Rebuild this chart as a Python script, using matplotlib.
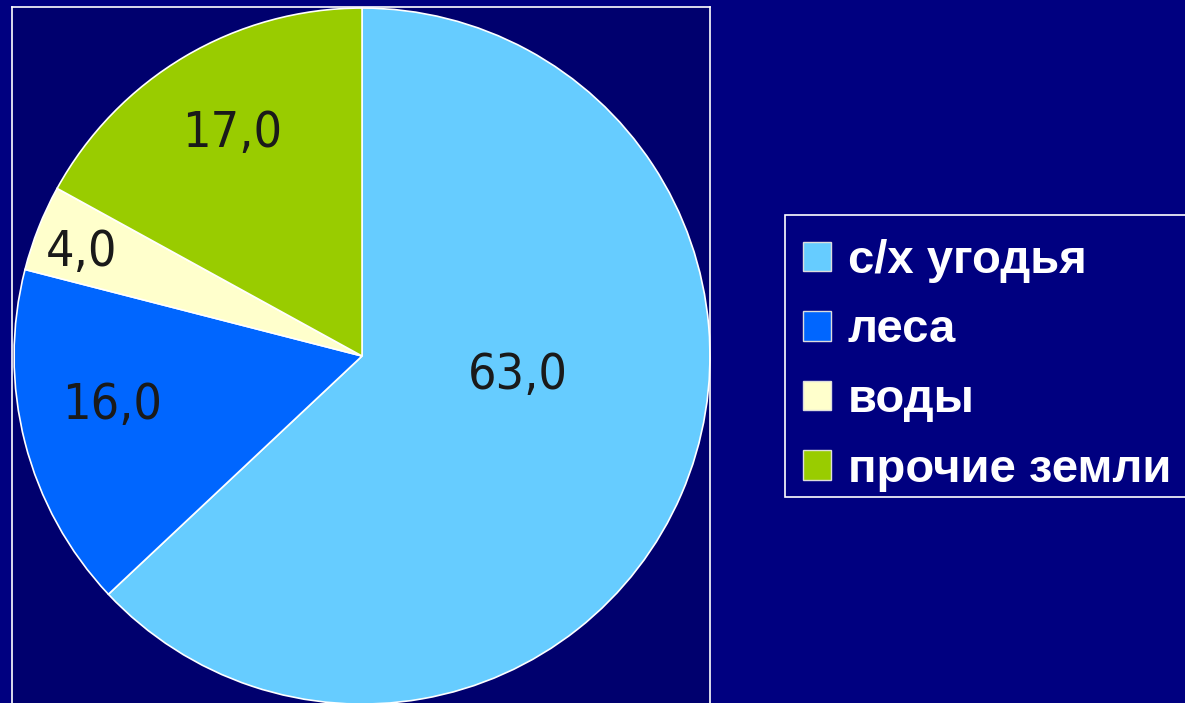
import matplotlib
matplotlib.use('Agg')
import matplotlib.pyplot as plt
from matplotlib.patches import Patch, Rectangle

# land use shares, %
labels = ['с/х угодья', 'леса', 'воды', 'прочие земли']
values = [63.0, 16.0, 4.0, 17.0]
colors = ['#66CCFF', '#0066FF', '#FFFFCC', '#99CC00']
value_text = ['63,0', '16,0', '4,0', '17,0']
# where PowerPoint put the value labels (data units, pie radius = 1)
label_pos = [(0.448, -0.055), (-0.718, -0.141), (-0.807, 0.299), (-0.374, 0.641)]

BG = '#000080'
PLOT_BG = '#00006E'
W, H = 1185, 703

fig = plt.figure(figsize=(W / 100, H / 100), dpi=100, facecolor=BG)
ax = fig.add_axes([12 / W, 0, 698 / W, 696 / H])

wedges, _ = ax.pie(values, colors=colors, startangle=90, counterclock=False,
                   wedgeprops=dict(edgecolor='white', linewidth=1.2))
ax.set_frame_on(True)
ax.set_facecolor(PLOT_BG)
ax.set_xlim(-1.006, 1.0)
ax.set_ylim(-0.997, 1.003)
ax.set_aspect('auto')

for txt, (x, y) in zip(value_text, label_pos):
    ax.text(x, y, txt, ha='center', va='center', fontsize=36,
            color='#1a1a1a', family='DejaVu Sans', fontstretch='condensed')

ax.set_xticks([])
ax.set_yticks([])
for side in ['left', 'top', 'right']:
    ax.spines[side].set_visible(True)
    ax.spines[side].set_color('white')
    ax.spines[side].set_linewidth(1.2)
ax.spines['bottom'].set_visible(False)

# legend frame drawn separately (it runs off the right edge)
fig.patches.append(Rectangle((785 / W, 1 - 497 / H), 420 / W, 282 / H,
                             transform=fig.transFigure, facecolor=BG,
                             edgecolor='white', linewidth=1.2))

handles = [Patch(facecolor=c, edgecolor='#dddddd', linewidth=1) for c in colors]
leg = fig.legend(handles, labels, loc='upper left',
                 bbox_to_anchor=(803 / W, 1 - 239 / H),
                 prop=dict(family='Liberation Sans', weight='bold', size=34),
                 labelcolor='white', frameon=False,
                 handlelength=0.59, handleheight=0.59, handletextpad=0.36,
                 labelspacing=0.54, borderpad=0, borderaxespad=0)

fig.savefig('out.png', dpi=100, facecolor=BG)
